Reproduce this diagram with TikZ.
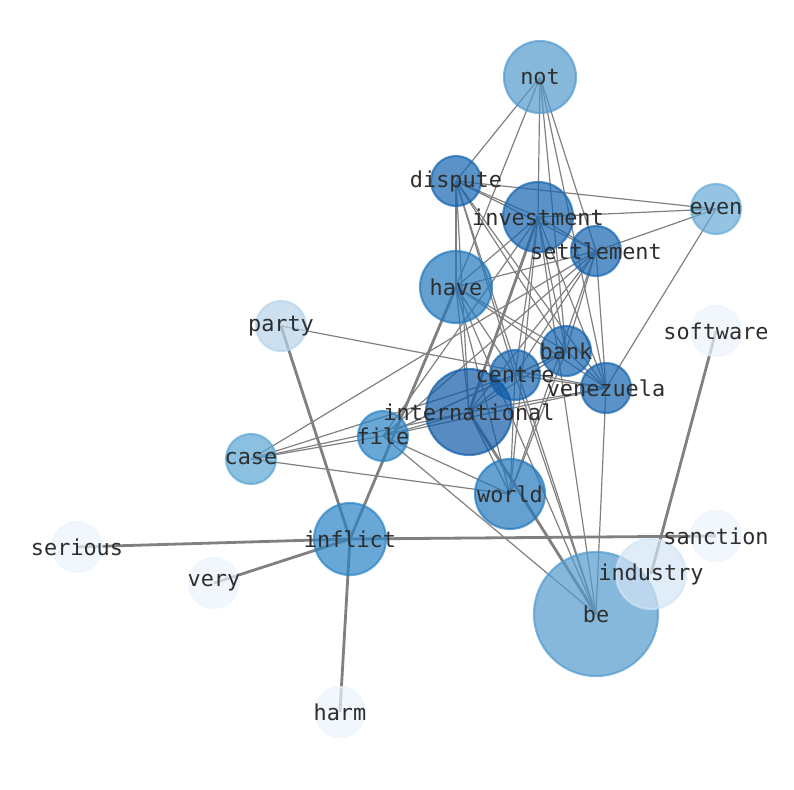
\documentclass[tikz,border=0pt]{standalone}
\usepackage{fontspec}
\setmonofont{DejaVu Sans Mono}
\definecolor{word_dark}{HTML}{1565B0}
\definecolor{word_darkest}{HTML}{0F5AA6}
\definecolor{word_mid}{HTML}{2277BC}
\definecolor{word_file}{HTML}{2A83C4}
\definecolor{word_light}{HTML}{529ACD}
\definecolor{word_case}{HTML}{5BA5D3}
\definecolor{word_even}{HTML}{66ABD6}
\definecolor{word_party}{HTML}{B6D3EA}
\definecolor{word_industry}{HTML}{D3E4F5}
\definecolor{word_faint}{HTML}{ECF4FC}
\definecolor{label_gray}{HTML}{2E2E2E}
\tikzset{word_vertex/.style={circle, inner sep=0pt, outer sep=0pt, line width=1.6pt, fill opacity=0.7, draw opacity=0.7}}
\tikzset{word_label/.style={inner sep=0pt, text=label_gray, font=\ttfamily\fontsize{16.4}{18}\selectfont}}
\tikzset{edge_thin/.style={color=gray, line width=0.9pt}}
\tikzset{edge_thick/.style={color=gray, line width=2.1pt}}

\begin{document}
\begin{tikzpicture}[x=0.75pt, y=-0.75pt]
    \useasboundingbox (0,0) rectangle (794,790);
    \foreach \w/\x/\y in {not/540/77, dispute/456/181, investment/538/217, settlement/596/251,
      even/716/209, have/456/287, party/281/326, software/716/331, bank/566/351, centre/515/375,
      venezuela/606/388, international/469/412, file/383/436, case/251/459, world/510/494,
      inflict/350/539, serious/77/547, very/214/583, sanction/716/536, industry/651/574,
      be/596/614, harm/340/712}{\coordinate (\w) at (\x,\y);}
    % thin edges
    \foreach \a/\b in {not/dispute, not/have, not/investment, not/settlement, not/bank, not/venezuela,
      dispute/investment, dispute/settlement, dispute/even, dispute/have, dispute/international,
      dispute/bank, dispute/venezuela, dispute/centre, dispute/be,
      investment/even, investment/settlement, investment/have, investment/world, investment/centre,
      investment/bank, investment/venezuela, investment/be, investment/file,
      settlement/even, settlement/have, settlement/centre, settlement/international, settlement/file,
      settlement/world, settlement/bank, settlement/venezuela, settlement/case,
      even/venezuela, have/international, have/centre, have/bank, have/world, have/be, have/venezuela,
      party/venezuela, bank/centre, bank/venezuela, bank/international, bank/world, bank/file,
      centre/venezuela, centre/international, centre/world, centre/file, centre/case, centre/be,
      venezuela/international, venezuela/file, venezuela/be,
      international/file, international/case, international/world,
      file/case, file/world, file/be, case/world}
      \draw[edge_thin] (\a)--(\b);
    % thick edges
    \foreach \a/\b in {inflict/party, inflict/have, inflict/serious, inflict/very, inflict/harm,
      inflict/sanction, industry/software, investment/international, international/be}
      \draw[edge_thick] (\a)--(\b);
    % vertices
    \foreach \w/\r/\c in {not/36/word_light, dispute/25/word_dark, investment/35/word_dark,
      settlement/25/word_dark, even/25/word_even, have/36/word_mid, party/25/word_party,
      software/25/word_faint, bank/25/word_dark, centre/25/word_dark, venezuela/25/word_dark,
      international/43/word_darkest, file/25/word_file, case/25/word_case, world/35/word_mid,
      inflict/36/word_file, serious/25/word_faint, very/25/word_faint, sanction/25/word_faint,
      be/62/word_light, industry/35/word_industry, harm/25/word_faint}
      \node[word_vertex, fill=\c, draw=\c, minimum size=\r*1.5pt] (v_\w) at (\w) {};
    % labels
    \foreach \w in {not, dispute, investment, settlement, even, have, party, software, bank, centre,
      venezuela, international, file, case, world, inflict, serious, very, sanction, industry, be, harm}
      \node[word_label] (l_\w) at (\w) {\w};
\end{tikzpicture}
\end{document}
